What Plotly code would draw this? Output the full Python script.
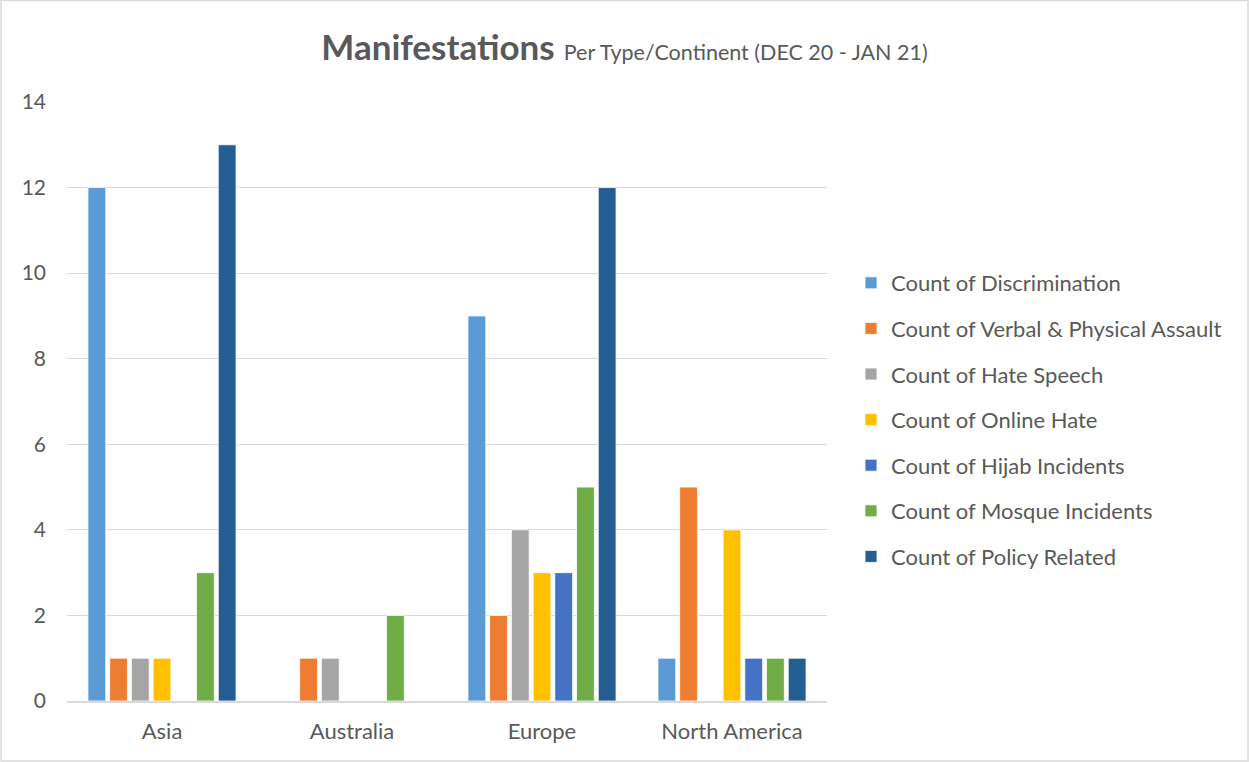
import plotly.graph_objects as go

continents = ["Asia", "Australia", "Europe", "North America"]
series_names = [
    "Count of Discrimination",
    "Count of Verbal & Physical Assault",
    "Count of Hate Speech",
    "Count of Online Hate",
    "Count of Hijab Incidents",
    "Count of Mosque Incidents",
    "Count of Policy Related",
]
discrimination = [12, 0, 9, 1]
verbal_physical = [1, 1, 2, 5]
hate_speech = [1, 1, 4, 0]
online_hate = [1, 0, 3, 4]
hijab = [0, 0, 3, 1]
mosque = [3, 2, 5, 1]
policy = [13, 0, 12, 1]
series_values = [discrimination, verbal_physical, hate_speech, online_hate, hijab, mosque, policy]
colors = ["#5B9BD5", "#ED7D31", "#A5A5A5", "#FFC000", "#4472C4", "#70AD47", "#255E91"]
y_ticks = [0, 2, 4, 6, 8, 10, 12, 14]

FONT = "Lato, 'Open Sans', sans-serif"
GRAY = "#595959"

fig = go.Figure()
for i, (name, vals, col) in enumerate(zip(series_names, series_values, colors)):
    fig.add_trace(go.Bar(
        x=continents, y=vals, name=name, legendgroup=f"g{i}",
        marker=dict(color=col, line=dict(color="white", width=0.8)),
    ))

L, R, T, B = 67, 422, 102, 61
PW, PH = 1249 - L - R, 762 - T - B

fig.update_layout(
    width=1249, height=762,
    paper_bgcolor="white", plot_bgcolor="white",
    font=dict(family=FONT, color=GRAY, size=22),
    barmode="group", bargap=0.2, bargroupgap=0.18,
    margin=dict(l=L, r=R, t=T, b=B, autoexpand=False),
    title=dict(
        text="<b>Manifestations</b> <span style='font-size:21.5px'>Per Type/Continent (DEC 20 - JAN 21)</span>",
        x=0.5, xref="container", xanchor="center", y=0.937, yref="container", yanchor="middle",
        font=dict(family=FONT, size=35, color=GRAY),
    ),
    xaxis=dict(showgrid=False, showline=True, linecolor="#D9D9D9", linewidth=1.5,
               ticks="", ticklabelstandoff=10, tickfont=dict(size=22, color=GRAY)),
    yaxis=dict(range=[0, 14], tickvals=y_ticks, showgrid=True, gridcolor="#D9D9D9",
               gridwidth=1.3, zeroline=False, showline=False, ticks="",
               ticklabelstandoff=20, tickfont=dict(size=21, color=GRAY)),
    legend=dict(x=851 / 1249, xref="container", xanchor="left", y=1 - 262 / 762, yanchor="top",
                yref="container", tracegroupgap=14, font=dict(size=22, color=GRAY),
                itemwidth=30, traceorder="grouped"),
)
fig.add_shape(type="rect", xref="paper", yref="paper",
              x0=-(L - 1) / PW, x1=(1249 - L - 1) / PW, y0=-(B - 1) / PH, y1=(762 - B - 0.5) / PH,
              line=dict(color="#D9D9D9", width=1.5), fillcolor="rgba(0,0,0,0)", layer="below")
fig.write_html("out.html", config={"displayModeBar": False},
               post_script="document.body.style.margin='0';document.body.style.overflow='hidden';")
